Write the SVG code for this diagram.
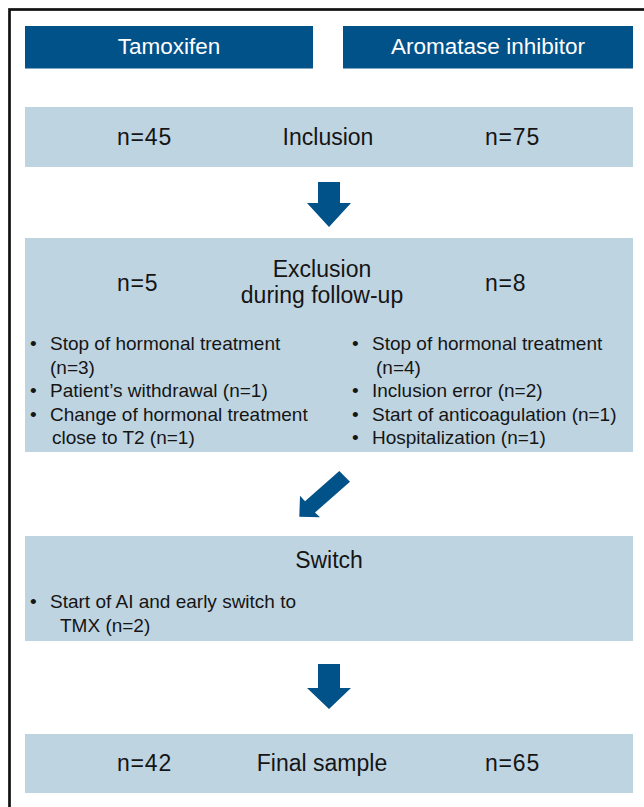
<svg xmlns="http://www.w3.org/2000/svg" width="644" height="807" viewBox="0 0 644 807">
<style>
.frame{fill:none;stroke:#111;stroke-width:2.7}
.hdr{fill:#02528A}
.box{fill:#BFD4E1}
.arrow{fill:#02528A}
text{font-family:"Liberation Sans",Arial,Helvetica,sans-serif;fill:#151515}
.ht{font-size:22.5px;fill:#ffffff;text-anchor:middle}
.t{font-size:23px}
.n{letter-spacing:0.8px}
.c{text-anchor:middle}
.b{font-size:19px}
</style>
<rect class="frame" x="9.5" y="9.5" width="700" height="900"/>
<g id="tamoxifen">
<rect class="hdr" x="25" y="26" width="288" height="42.5"/>
<text class="ht" x="169" y="54">Tamoxifen</text>
</g>
<g id="aromatase">
<rect class="hdr" x="343" y="26" width="290" height="42.5"/>
<text class="ht" x="488" y="54">Aromatase inhibitor</text>
</g>
<g id="inclusion">
<rect class="box" x="25" y="107" width="608" height="60"/>
<text class="t n" x="117" y="145">n=45</text>
<text class="t c" x="328" y="145">Inclusion</text>
<text class="t n" x="485" y="145">n=75</text>
</g>
<g id="exclusion">
<rect class="box" x="25" y="238" width="608" height="214"/>
<text class="t n" x="117" y="291">n=5</text>
<text class="t c" x="322" y="277">Exclusion</text>
<text class="t c" x="322" y="303">during follow-up</text>
<text class="t n" x="485" y="291">n=8</text>
<text class="b" x="30" y="350">•</text>
<text class="b" x="50" y="350">Stop of hormonal treatment</text>
<text class="b" x="50" y="373.5">(n=3)</text>
<text class="b" x="30" y="397">•</text>
<text class="b" x="50" y="397">Patient’s withdrawal (n=1)</text>
<text class="b" x="30" y="420.5">•</text>
<text class="b" x="50" y="420.5">Change of hormonal treatment</text>
<text class="b" x="52" y="444">close to T2 (n=1)</text>
<text class="b" x="352" y="350">•</text>
<text class="b" x="372" y="350">Stop of hormonal treatment</text>
<text class="b" x="376" y="373.5">(n=4)</text>
<text class="b" x="352" y="397">•</text>
<text class="b" x="372" y="397">Inclusion error (n=2)</text>
<text class="b" x="352" y="420.5">•</text>
<text class="b" x="372" y="420.5">Start of anticoagulation (n=1)</text>
<text class="b" x="352" y="444">•</text>
<text class="b" x="372" y="444">Hospitalization (n=1)</text>
</g>
<g id="switch">
<rect class="box" x="25" y="536" width="608" height="105"/>
<text class="t c" x="329" y="568">Switch</text>
<text class="b" x="30" y="608">•</text>
<text class="b" x="50" y="608">Start of AI and early switch to</text>
<text class="b" x="60" y="632">TMX (n=2)</text>
</g>
<g id="final">
<rect class="box" x="25" y="734" width="608" height="59"/>
<text class="t n" x="117" y="771">n=42</text>
<text class="t c" x="322" y="771">Final sample</text>
<text class="t n" x="485" y="771">n=65</text>
</g>
<g id="connectors">
<polygon class="arrow" points="318,182 340,182 340,203 351,203 329,227 307,203 318,203"/>
<polygon class="arrow" points="339.3,471 350,481.7 315,512.5 320,517.3 299.3,516.7 300,495.7 305,501.2"/>
<polygon class="arrow" points="318,664 340,664 340,688 351,688 329,709 307,688 318,688"/>
</g>
</svg>
